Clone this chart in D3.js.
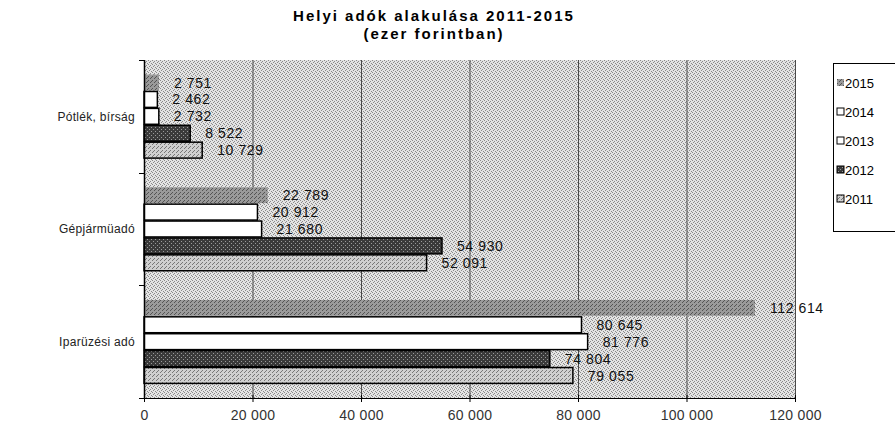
<!DOCTYPE html>
<html>
<head>
<meta charset="utf-8">
<script src="https://cdn.jsdelivr.net/npm/d3@7"></script>
<style>
  body { margin: 0; background: #fff; }
  svg text { font-family: "Liberation Sans", Arial, sans-serif; }
</style>
</head>
<body>
<svg id="chart" width="895" height="424"></svg>
<script>
var categories = ["Pótlék, bírság", "Gépjármüadó", "Iparüzési adó"];
var years = ["2015", "2014", "2013", "2012", "2011"];
var values2015 = [2751, 22789, 112614];
var values2014 = [2462, 20912, 80645];
var values2013 = [2732, 21680, 81776];
var values2012 = [8522, 54930, 74804];
var values2011 = [10729, 52091, 79055];
var xTicks = [0, 20000, 40000, 60000, 80000, 100000, 120000];

var seriesValues = [values2015, values2014, values2013, values2012, values2011];

var fills = {
    "2015": "url(#pat2015)",
    "2014": "#ffffff",
    "2013": "#ffffff",
    "2012": "url(#pat2012)",
    "2011": "url(#pat2011)"
};
var strokes = {
    "2015": "none",
    "2014": "#000",
    "2013": "#000",
    "2012": "#000",
    "2011": "#000"
};

var svg = d3.select("#chart");
var defs = svg.append("defs");

// stippled patterns, mimicking the scanned halftone look
function makePattern(id, base, dot, cells) {
    var p = defs.append("pattern")
        .attr("id", id)
        .attr("width", 4).attr("height", 4)
        .attr("patternUnits", "userSpaceOnUse");
    p.append("rect").attr("width", 4).attr("height", 4).attr("fill", base);
    cells.forEach(function (c) {
        p.append("rect").attr("x", c[0]).attr("y", c[1])
            .attr("width", 1).attr("height", 1).attr("fill", dot);
    });
}
makePattern("patBg", "#e4e4e4", "#8a8a8a", [[0, 0], [2, 1], [3, 3], [1, 2]]);
makePattern("pat2015", "#9a9a9a", "#555", [[0, 0], [2, 2], [3, 1]]);
makePattern("pat2012", "#3a3a3a", "#9a9a9a", [[1, 1], [3, 3]]);
makePattern("pat2011", "#d0d0d0", "#777", [[0, 0], [2, 2], [1, 3]]);

var plotLeft = 144, plotRight = 795, plotTop = 60, plotBottom = 398;

var x = d3.scaleLinear().domain([0, 120000]).range([plotLeft, plotRight]);
var y = d3.scaleBand().domain(categories).range([plotTop, plotBottom])
    .paddingInner(0.25).paddingOuter(0.125);
var ySub = d3.scaleBand().domain(years).range([0, y.bandwidth()]);

var fmt = function (v) {
    return d3.format(",")(v).replace(/,/g, " ");
};

// plot background
svg.append("rect")
    .attr("x", plotLeft).attr("y", plotTop)
    .attr("width", plotRight - plotLeft).attr("height", plotBottom - plotTop)
    .attr("fill", "url(#patBg)");

// vertical gridlines
svg.append("g").selectAll("line")
    .data(xTicks.slice(1))
    .enter().append("line")
    .attr("x1", function (d) { return x(d) + 0.5; })
    .attr("x2", function (d) { return x(d) + 0.5; })
    .attr("y1", plotTop).attr("y2", plotBottom)
    .attr("stroke", "#4a4a4a").attr("stroke-width", 1);

// bars
years.forEach(function (yr, i) {
    var g = svg.append("g").attr("class", "series");
    g.selectAll("rect")
        .data(seriesValues[i])
        .enter().append("rect")
        .attr("x", x(0))
        .attr("y", function (d, j) { return y(categories[j]) + ySub(yr) + 0.5; })
        .attr("width", function (d) { return x(d) - x(0); })
        .attr("height", ySub.bandwidth() - 1)
        .attr("fill", fills[yr])
        .attr("stroke", strokes[yr])
        .attr("stroke-width", 1.5);
    g.selectAll("text")
        .data(seriesValues[i])
        .enter().append("text")
        .attr("x", function (d) { return x(d) + 15; })
        .attr("y", function (d, j) { return y(categories[j]) + ySub(yr) + ySub.bandwidth() / 2; })
        .attr("dy", "0.36em")
        .attr("font-size", 14)
        .attr("letter-spacing", 0.6)
        .attr("fill", "#111")
        .text(fmt);
});

// x axis
var xAxis = d3.axisBottom(x).tickValues(xTicks).tickSize(4).tickPadding(8)
    .tickFormat(fmt);
var gx = svg.append("g")
    .attr("transform", "translate(0," + plotBottom + ")")
    .call(xAxis);
gx.select(".domain").attr("d", "M" + (plotLeft - 4) + ",0.5H" + plotRight).attr("stroke", "#000");
gx.selectAll(".tick line").attr("y1", -3).attr("stroke", "#000");
gx.selectAll(".tick text")
    .attr("font-size", 14)
    .attr("letter-spacing", 0.3)
    .attr("font-family", "Liberation Sans, Arial, sans-serif")
    .attr("fill", "#333");

// y axis
var gy = svg.append("g").attr("transform", "translate(" + plotLeft + ",0)");
gy.append("line")
    .attr("x1", 0.5).attr("x2", 0.5)
    .attr("y1", plotTop).attr("y2", plotBottom)
    .attr("stroke", "#000").attr("stroke-width", 1.5);
var bounds = [plotTop, plotTop + y.step(), plotTop + 2 * y.step(), plotBottom];
gy.selectAll(".ytick")
    .data(bounds)
    .enter().append("line")
    .attr("x1", -5).attr("x2", 0)
    .attr("y1", function (d) { return Math.round(d) + 0.5; })
    .attr("y2", function (d) { return Math.round(d) + 0.5; })
    .attr("stroke", "#000");
gy.selectAll(".ylabel")
    .data(categories)
    .enter().append("text")
    .attr("x", -9)
    .attr("y", function (d) { return y(d) + y.bandwidth() / 2; })
    .attr("dy", "0.36em")
    .attr("text-anchor", "end")
    .attr("font-size", 12)
    .attr("letter-spacing", 0.3)
    .attr("fill", "#222")
    .text(function (d) { return d; });

// title
var title = svg.append("text")
    .attr("text-anchor", "middle")
    .attr("font-size", 15)
    .attr("font-weight", "bold")
    .attr("letter-spacing", 2);
title.append("tspan").attr("x", 434).attr("y", 21).text("Helyi adók alakulása 2011-2015");
title.append("tspan").attr("x", 434).attr("y", 39).text("(ezer forintban)");

// legend
var legend = svg.append("g").attr("transform", "translate(833,63)");
legend.append("rect")
    .attr("x", 0.5).attr("y", 0.5)
    .attr("width", 70).attr("height", 168)
    .attr("fill", "#fff").attr("stroke", "#000");
var li = legend.selectAll(".item")
    .data(years)
    .enter().append("g")
    .attr("transform", function (d, i) { return "translate(4," + (20 + i * 29) + ")"; });
li.append("rect")
    .attr("x", 0).attr("y", -4)
    .attr("width", 7).attr("height", 7)
    .attr("fill", function (d) { return fills[d]; })
    .attr("stroke", function (d) { return d === "2015" ? "none" : "#000"; });
li.append("text")
    .attr("x", 8).attr("y", 0)
    .attr("dy", "0.36em")
    .attr("font-size", 13)
    .text(function (d) { return d; });
</script>
</body>
</html>
